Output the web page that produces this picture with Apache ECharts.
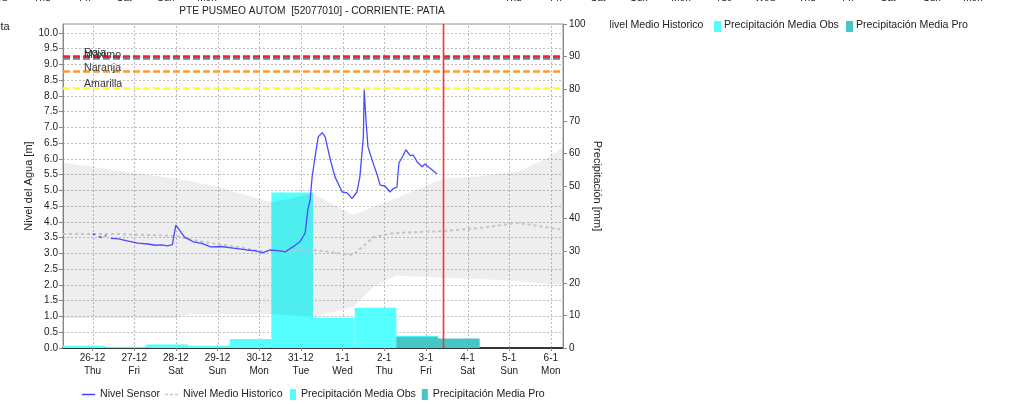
<!DOCTYPE html>
<html>
<head>
<meta charset="utf-8">
<script src="https://cdn.jsdelivr.net/npm/echarts@6/dist/echarts.min.js"></script>
<style>html,body{margin:0;padding:0;background:#fff}#c{width:1025px;height:404px}</style>
</head>
<body>
<div id="c"></div>
<script>
// ---------------- DATA ----------------
const chartTitle = 'PTE PUSMEO AUTOM  [52077010] - CORRIENTE: PATIA';
const xMin = '2024-12-25 07:00';
const xMax = '2025-01-06 07:00';
const xTickDates = ['2024-12-26 00:00','2024-12-27 00:00','2024-12-28 00:00','2024-12-29 00:00','2024-12-30 00:00','2024-12-31 00:00','2025-01-01 00:00','2025-01-02 00:00','2025-01-03 00:00','2025-01-04 00:00','2025-01-05 00:00','2025-01-06 00:00'];
const xTickLabels = ['26-12\nThu','27-12\nFri','28-12\nSat','29-12\nSun','30-12\nMon','31-12\nTue','1-1\nWed','2-1\nThu','3-1\nFri','4-1\nSat','5-1\nSun','6-1\nMon'];

const sensorTimes = ['2024-12-26 00:00','2024-12-26 01:30','2024-12-26 02:30','2024-12-26 03:30','2024-12-26 05:30','2024-12-26 06:30','2024-12-26 07:00','2024-12-26 08:00','2024-12-26 09:00','2024-12-26 10:30','2024-12-26 15:00','2024-12-26 20:00','2024-12-27 02:00','2024-12-27 08:00','2024-12-27 12:00','2024-12-27 16:00','2024-12-27 19:00','2024-12-27 22:00','2024-12-28 00:00','2024-12-28 05:00','2024-12-28 10:00','2024-12-28 15:00','2024-12-28 20:00','2024-12-29 02:00','2024-12-29 09:00','2024-12-29 17:00','2024-12-29 22:00','2024-12-30 02:00','2024-12-30 06:00','2024-12-30 12:00','2024-12-30 15:00','2024-12-30 19:30','2024-12-30 23:30','2024-12-31 02:30','2024-12-31 04:00','2024-12-31 05:20','2024-12-31 06:30','2024-12-31 08:10','2024-12-31 10:00','2024-12-31 12:20','2024-12-31 14:00','2024-12-31 17:00','2024-12-31 19:40','2024-12-31 23:50','2025-01-01 02:40','2025-01-01 05:30','2025-01-01 08:20','2025-01-01 10:00','2025-01-01 12:00','2025-01-01 12:30','2025-01-01 13:30','2025-01-01 14:40','2025-01-01 17:00','2025-01-01 20:00','2025-01-01 21:40','2025-01-02 00:30','2025-01-02 03:20','2025-01-02 05:00','2025-01-02 07:20','2025-01-02 08:30','2025-01-02 10:50','2025-01-02 12:30','2025-01-02 15:00','2025-01-02 16:40','2025-01-02 19:00','2025-01-02 21:50','2025-01-02 23:30','2025-01-03 01:20','2025-01-03 03:40','2025-01-03 06:30'];
const sensorValues = [3.62,3.60,'-',3.53,3.51,'-',3.57,3.55,'-',3.48,3.46,3.40,3.33,3.30,3.26,3.27,3.24,3.28,3.90,3.52,3.37,3.32,3.21,3.22,3.17,3.11,3.08,3.02,3.11,3.08,3.05,3.21,3.37,3.65,4.38,4.70,5.43,6.06,6.70,6.83,6.70,5.97,5.43,4.95,4.92,4.74,4.95,5.43,6.70,8.19,7.24,6.38,5.97,5.49,5.17,5.14,4.95,5.05,5.10,5.87,6.10,6.29,6.10,6.13,5.90,5.75,5.84,5.75,5.65,5.52];

const histTimes = ['2024-12-25 07:00','2024-12-26 12:00','2024-12-27 12:00','2024-12-28 00:00','2024-12-28 12:00','2024-12-29 12:00','2024-12-30 00:00','2024-12-30 12:00','2024-12-31 07:00','2025-01-01 06:00','2025-01-01 18:00','2025-01-02 06:00','2025-01-03 10:00','2025-01-04 07:00','2025-01-05 05:00','2025-01-06 07:00'];
const histValues = [3.62,3.62,3.58,3.55,3.40,3.20,3.08,3.08,3.11,2.95,3.52,3.65,3.71,3.81,3.97,3.75];

const bandTimes = ['2024-12-25 07:00','2024-12-26 00:00','2024-12-27 00:00','2024-12-28 00:00','2024-12-28 08:00','2024-12-29 00:00','2024-12-30 00:00','2024-12-30 07:00','2024-12-31 07:00','2025-01-01 06:00','2025-01-01 18:00','2025-01-02 07:00','2025-01-03 01:00','2025-01-03 10:00','2025-01-04 07:00','2025-01-05 05:00','2025-01-05 20:00','2025-01-06 07:00'];
const bandUpper = [5.88,5.75,5.55,5.37,5.30,5.12,4.73,4.62,4.90,4.22,4.49,4.75,5.17,5.37,5.45,5.60,5.97,6.35];
const bandLower = [0.95,0.95,0.95,0.95,1.08,1.08,1.08,1.08,0.98,1.30,1.94,2.29,2.25,2.23,2.19,2.12,2.05,2.02];

const obsStart = ['2024-12-25 07:00','2024-12-26 07:00','2024-12-27 07:00','2024-12-28 07:00','2024-12-29 07:00','2024-12-30 07:00','2024-12-31 07:00','2025-01-01 07:00','2025-01-02 07:00'];
const obsEnd   = ['2024-12-26 07:00','2024-12-27 07:00','2024-12-28 07:00','2024-12-29 07:00','2024-12-30 07:00','2024-12-31 07:00','2025-01-01 07:00','2025-01-02 07:00','2025-01-03 07:00'];
const obsValues = [0.7,0.4,1.1,0.7,2.8,48,9.3,12.4,3.8];

const proStart = ['2025-01-02 07:00','2025-01-03 07:00'];
const proEnd   = ['2025-01-03 07:00','2025-01-04 07:00'];
const proValues = [3.5,2.9];

const thresholdNames = ['Máximo','Roja','Naranja','Amarilla'];
const thresholdValues = [9.18,9.25,8.77,8.25];
const nowTime = '2025-01-03 10:00';

const legendNames = ['Nivel Sensor','Nivel Medio Historico','Precipitación Media Obs','Precipitación Media Pro'];

// ---------------- STYLE ----------------
const FONT = '"Liberation Sans", Arial, sans-serif';
const thresholdColors = ['#7a7a9c','#ff1a1a','#ff9a2a','#ffff20'];
const Y_MAX = 10.28;
const P = s => new Date(s.replace(' ', 'T')).getTime();
const tickTs = xTickDates.map(P);

function barRender(params, api) {
  const p0 = api.coord([api.value(0), api.value(2)]);
  const p1 = api.coord([api.value(1), 0]);
  return { type: 'rect', shape: { x: p0[0], y: p0[1], width: p1[0] - p0[0], height: p1[1] - p0[1] },
           style: { fill: api.visual('color') } };
}
function vlineRender(stroke, width, dash) {
  return (params, api) => {
    const a = api.coord([api.value(0), 0]);
    const b = api.coord([api.value(0), Y_MAX]);
    const x = Math.round(a[0]) + 0.5;
    return { type: 'line', shape: { x1: x, y1: a[1], x2: x, y2: b[1] },
             style: { stroke: stroke, lineWidth: width, lineDash: dash, fill: null } };
  };
}

const gridLine = { color: '#c0c0c0', type: [2, 2], width: 1 };
const lineIcon = 'path://M0,0 L13,0 L13,1.4 L0,1.4 Z';
const dashIcon = 'path://M0,0 L3,0 L3,1.6 L0,1.6 Z M5,0 L8,0 L8,1.6 L5,1.6 Z M10,0 L13,0 L13,1.6 L10,1.6 Z';

const option = {
  animation: false,
  backgroundColor: '#fff',
  textStyle: { fontFamily: FONT },
  grid: { left: 63, right: 462, top: 24, bottom: 56, show: true, borderColor: '#999', borderWidth: 1 },
  xAxis: {
    type: 'value', min: P(xMin), max: P(xMax), scale: true,
    axisLine: { show: true, lineStyle: { color: '#333', width: 2, type: [1, 1] } },
    axisTick: { show: true, customValues: tickTs, length: 3, lineStyle: { color: '#888' } },
    axisLabel: { customValues: tickTs, fontSize: 10, color: '#222', lineHeight: 13, margin: 4,
                 formatter: v => { const i = tickTs.indexOf(v); return i >= 0 ? xTickLabels[i] : ''; } },
    splitLine: { show: false }
  },
  yAxis: [
    { type: 'value', min: 0, max: Y_MAX, interval: 0.5, position: 'left',
      name: 'Nivel del Agua [m]', nameLocation: 'middle', nameGap: 28, nameRotate: 90,
      nameTextStyle: { fontSize: 11, color: '#222' },
      axisLine: { show: true, lineStyle: { color: '#888' } },
      axisTick: { show: true, length: 4, lineStyle: { color: '#888' } },
      axisLabel: { fontSize: 10, color: '#222', margin: 5, showMaxLabel: false, formatter: v => v.toFixed(1) },
      splitLine: { show: true, lineStyle: gridLine } },
    { type: 'value', min: 0, max: 100, interval: 10, position: 'right',
      name: 'Precipitación [mm]', nameLocation: 'middle', nameGap: 29, nameRotate: -90,
      nameTextStyle: { fontSize: 11, color: '#222' },
      axisLine: { show: true, lineStyle: { color: '#888' } },
      axisTick: { show: true, length: 4, lineStyle: { color: '#888' } },
      axisLabel: { fontSize: 10, color: '#222', margin: 6 },
      splitLine: { show: false } }
  ],
  legend: [
    { left: 82, top: 389, padding: 0, itemWidth: 13, itemHeight: 11, itemGap: 5,
      textStyle: { fontSize: 10.6, color: '#222', fontFamily: FONT },
      data: [{ name: legendNames[0], icon: lineIcon }, { name: legendNames[1], icon: dashIcon }] },
    { left: 290, top: 389, padding: 0, itemWidth: 6, itemHeight: 11, itemGap: 6,
      textStyle: { fontSize: 10.6, color: '#222', fontFamily: FONT },
      data: [{ name: legendNames[2], icon: 'rect' }, { name: legendNames[3], icon: 'rect' }] }
  ],
  series: [
    { name: 'xgrid', type: 'custom', xAxisIndex: 0, yAxisIndex: 0, z: 0, clip: false, silent: true,
      renderItem: vlineRender('#bcbcbc', 1, [2, 2]), encode: { x: 0, y: 1 },
      data: tickTs.map(t => [t, 0]) },
    { name: legendNames[2], type: 'custom', yAxisIndex: 1, z: 1, clip: true, color: '#55ffff',
      renderItem: barRender, encode: { x: [0, 1], y: 2 },
      data: obsStart.map((s, i) => [P(s), P(obsEnd[i]), obsValues[i]]) },
    { name: legendNames[3], type: 'custom', yAxisIndex: 1, z: 1, clip: true, color: '#44c6c6',
      renderItem: barRender, encode: { x: [0, 1], y: 2 },
      data: proStart.map((s, i) => [P(s), P(proEnd[i]), proValues[i]]) },
    { name: 'band', type: 'custom', yAxisIndex: 0, z: 2, clip: true, silent: true,
      renderItem: (params, api) => {
        const up = bandTimes.map((t, i) => api.coord([P(t), bandUpper[i]]));
        const lo = bandTimes.map((t, i) => api.coord([P(t), bandLower[i]])).reverse();
        return { type: 'polygon', shape: { points: up.concat(lo) }, style: { fill: 'rgba(0,0,0,0.065)' } };
      },
      data: [[P(bandTimes[0]), bandLower[0]]] },
    { name: legendNames[1], type: 'line', yAxisIndex: 0, z: 3, symbol: 'none', color: '#c4c4c4',
      lineStyle: { color: '#c4c4c4', width: 2, type: [3, 3] },
      data: histTimes.map((t, i) => [P(t), histValues[i]]) },
    { name: legendNames[0], type: 'line', yAxisIndex: 0, z: 5, symbol: 'none', color: '#3c3cff',
      lineStyle: { color: '#4a4aff', width: 1.3 }, connectNulls: false,
      data: sensorTimes.map((t, i) => [P(t), sensorValues[i]]),
      markLine: {
        silent: true, symbol: ['none', 'none'], animation: false,
        data: thresholdNames.map((n, i) => ({
          name: n, yAxis: thresholdValues[i],
          lineStyle: { color: thresholdColors[i], type: [7, 3], width: 2.6 },
          label: { show: true, formatter: n, position: 'insideStartTop', distance: [21, -2],
                   color: '#333', fontSize: 10.6, fontFamily: FONT }
        }))
      } },
    { name: 'now', type: 'custom', xAxisIndex: 0, yAxisIndex: 0, z: 6, clip: false, silent: true,
      renderItem: vlineRender('#ff3030', 1.6, null), encode: { x: 0, y: 1 },
      data: [[P(nowTime), 0]] }
  ],
  graphic: [
    { type: 'text', x: 312, y: 6, silent: true,
      style: { text: chartTitle, font: '10.2px ' + FONT, fill: '#222', textAlign: 'center', align: 'center' } },
    ...[['Wed',-3],['Thu',42],['Fri',85],['Sat',124],['Sun',166],['Mon',207],['Thu',513],['Fri',556],['Sat',598],['Sun',639],['Mon',681],['Tue',724],['Wed',765],['Thu',807],['Fri',848],['Sat',888],['Sun',932],['Mon',973]]
      .map(([t, x]) => ({ type: 'text', x: x, y: -7, silent: true,
        style: { text: t, font: '10px ' + FONT, fill: '#222', textAlign: 'center', align: 'center' } })),
    { type: 'text', x: -2, y: 21, silent: true, style: { text: 'ita', font: '11px ' + FONT, fill: '#222' } },
    { type: 'text', x: 604, y: 20, silent: true, style: { text: 'Nivel Medio Historico', font: '10.6px ' + FONT, fill: '#222' } },
    { type: 'rect', shape: { x: 598, y: 16, width: 12, height: 20 }, style: { fill: '#fff' }, z: 100 },
    { type: 'rect', shape: { x: 714, y: 21, width: 7, height: 11 }, style: { fill: '#55ffff' } },
    { type: 'text', x: 724, y: 20, silent: true, style: { text: 'Precipitación Media Obs', font: '10.6px ' + FONT, fill: '#222' } },
    { type: 'rect', shape: { x: 846, y: 21, width: 7, height: 11 }, style: { fill: '#44c6c6' } },
    { type: 'text', x: 856, y: 20, silent: true, style: { text: 'Precipitación Media Pro', font: '10.6px ' + FONT, fill: '#222' } }
  ]
};

const chart = echarts.init(document.getElementById('c'), null, { renderer: 'canvas' });
chart.setOption(option);
</script>
</body>
</html>
